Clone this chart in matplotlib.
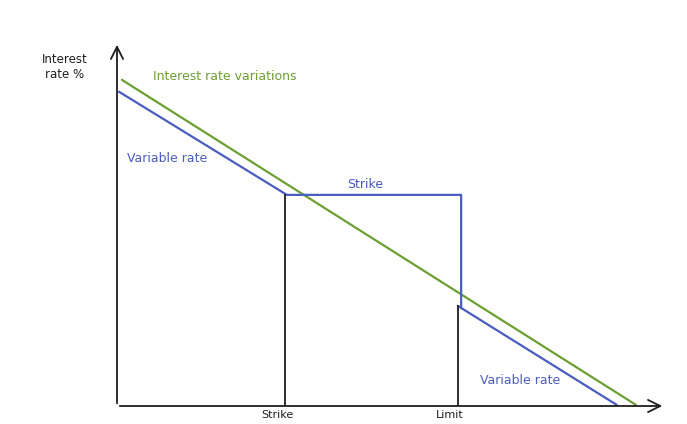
import matplotlib.pyplot as plt

# sketch coordinates (axis runs 0..100 on both directions)
variations_x = [0.9, 94.7]
variations_y = [89.6, 0.3]

variable_x = [0.4, 31.0, 62.8, 62.8]
variable_y = [86.3, 58.0, 58.0, 27.5]
variable_low_x = [62.2, 91.2]
variable_low_y = [27.5, 0.3]

strike_x = 30.7
strike_y = 58.0
limit_x = 62.2
limit_y = 27.5

tick_labels = ["Strike", "Limit"]

green = "#6c9f32"
blue = "#4a5cc0"
ink = "#1e1e1e"

fig = plt.figure(figsize=(6.87, 4.24), dpi=100)
ax = fig.add_axes([117 / 687, 18 / 424, 548 / 687, 364 / 424])
ax.set_xlim(0, 100)
ax.set_ylim(0, 100)
ax.axis("off")

# axes with arrows
ax.annotate("", xy=(100, 0), xytext=(0, 0),
            arrowprops=dict(arrowstyle="->", color=ink, lw=1.3, mutation_scale=22))
ax.annotate("", xy=(0, 100), xytext=(0, 0),
            arrowprops=dict(arrowstyle="->", color=ink, lw=1.3, mutation_scale=22))

# rate lines
ax.plot(variations_x, variations_y, color=green, lw=1.6, solid_capstyle="round")
ax.plot(variable_x, variable_y, color=blue, lw=1.6, solid_joinstyle="round")
ax.plot(variable_low_x, variable_low_y, color=blue, lw=1.6, solid_capstyle="round")

# strike / limit verticals
ax.plot([strike_x, strike_x], [0, strike_y], color=ink, lw=1.3)
ax.plot([limit_x, limit_x], [0, limit_y], color=ink, lw=1.3)

# labels
ax.text(-9.5, 93, "Interest\nrate %", ha="center", va="center", fontsize=8.5,
        color=ink, linespacing=1.2, clip_on=False)
ax.text(6.6, 90.4, "Interest rate variations", ha="left", va="center",
        fontsize=9, color=green)
ax.text(1.8, 68.1, "Variable rate", ha="left", va="center", fontsize=9, color=blue)
ax.text(45.3, 60.8, "Strike", ha="center", va="center", fontsize=9, color=blue)
ax.text(66.2, 7.1, "Variable rate", ha="left", va="center", fontsize=9, color=blue)

for xpos, lab in zip([strike_x, limit_x], tick_labels):
    ax.text(xpos - 1.5, -1.2, lab, ha="center", va="top", fontsize=8,
            color=ink, clip_on=False)

fig.savefig("out.png", dpi=100, facecolor="white")
